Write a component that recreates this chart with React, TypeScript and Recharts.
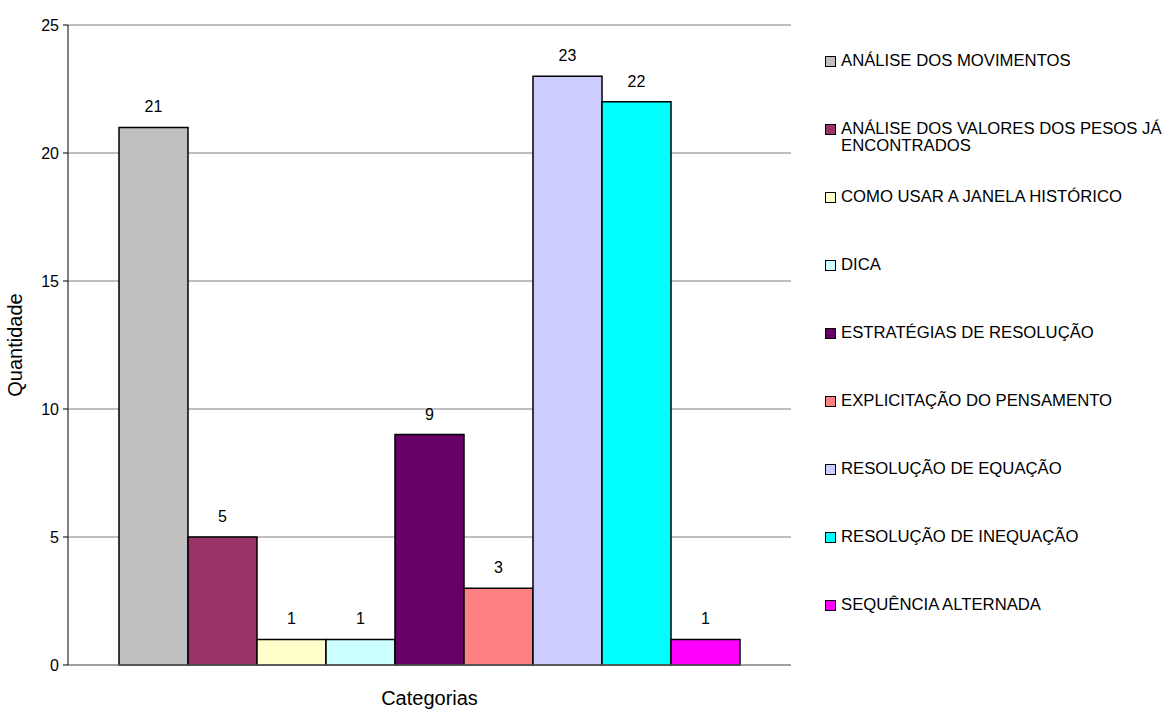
import React from 'react';
import {
    BarChart, Bar, XAxis, YAxis, CartesianGrid, Legend, LabelList, Label
} from 'recharts';

const categorias = [
    'ANÁLISE DOS MOVIMENTOS',
    'ANÁLISE DOS VALORES DOS PESOS JÁ ENCONTRADOS',
    'COMO USAR A JANELA HISTÓRICO',
    'DICA',
    'ESTRATÉGIAS DE RESOLUÇÃO',
    'EXPLICITAÇÃO DO PENSAMENTO',
    'RESOLUÇÃO DE EQUAÇÃO',
    'RESOLUÇÃO DE INEQUAÇÃO',
    'SEQUÊNCIA ALTERNADA',
];
const quantidades = [21, 5, 1, 1, 9, 3, 23, 22, 1];
const cores = ['#C0C0C0', '#993366', '#FFFFCC', '#CCFFFF', '#660066', '#FF8080', '#CCCCFF', '#00FFFF', '#FF00FF'];
const yTicks = [0, 5, 10, 15, 20, 25];

const FONT = '"Liberation Sans", Arial, sans-serif';

// one row, one key per category
const row: Record<string, string | number> = { grupo: 'Categorias' };
categorias.forEach((_, i) => { row['s' + i] = quantidades[i]; });
const data = [row];

const renderLegend = () => (
    <div style={{ fontFamily: FONT, fontSize: 16.7, color: '#000' }}>
        {categorias.map((nome, i) => (
            <div key={nome} style={{ height: 68, display: 'flex', alignItems: 'flex-start' }}>
                <span style={{
                    width: 9, height: 9, marginTop: 4, marginRight: 5, flex: 'none',
                    background: cores[i], border: '1px solid #000'
                }} />
                <span style={{ lineHeight: '17px', width: 334, flex: 'none' }}>{nome}</span>
            </div>
        ))}
    </div>
);

export default function App() {
    return (
        <div style={{ position: 'absolute', left: 0, top: 0, width: 1166, height: 711, background: '#fff', fontFamily: FONT, overflow: 'hidden' }}>
            <BarChart
                width={1166}
                height={711}
                data={data}
                margin={{ top: 25, right: 375, bottom: 0, left: 0 }}
                barCategoryGap={51}
                barGap={0}
            >
                <CartesianGrid vertical={false} stroke="#808080" />
                <XAxis
                    dataKey="grupo"
                    height={46}
                    tick={false}
                    tickLine={false}
                    axisLine={{ stroke: '#808080' }}
                >
                    <Label value="Categorias" position="insideBottom" offset={6}
                        style={{ fontSize: 20, fill: '#000', fontFamily: FONT }} />
                </XAxis>
                <YAxis
                    width={68}
                    domain={[0, 25]}
                    ticks={yTicks}
                    tickSize={5}
                    tickMargin={4}
                    axisLine={{ stroke: '#000' }}
                    tickLine={{ stroke: '#000' }}
                    tick={{ fontSize: 16, fill: '#000', fontFamily: FONT }}
                >
                    <Label value="Quantidade" angle={-90} position="insideLeft" offset={15}
                        style={{ fontSize: 20, fill: '#000', fontFamily: FONT, textAnchor: 'middle' }} />
                </YAxis>
                <YAxis
                    yAxisId="borda"
                    orientation="right"
                    width={0}
                    domain={[0, 25]}
                    tick={false}
                    tickLine={false}
                    axisLine={{ stroke: '#808080' }}
                />
                <Legend
                    layout="vertical"
                    align="center"
                    verticalAlign="middle"
                    content={renderLegend}
                    wrapperStyle={{ left: 825, top: 52, width: 341, height: 620 }}
                />
                {categorias.map((nome, i) => (
                    <Bar
                        key={nome}
                        dataKey={'s' + i}
                        name={nome}
                        fill={cores[i]}
                        stroke="#000"
                        strokeWidth={1.5}
                        isAnimationActive={false}
                    >
                        <LabelList dataKey={'s' + i} position="top" offset={15}
                            style={{ fontSize: 16, fill: '#000', fontFamily: FONT }} />
                    </Bar>
                ))}
            </BarChart>
        </div>
    );
}
